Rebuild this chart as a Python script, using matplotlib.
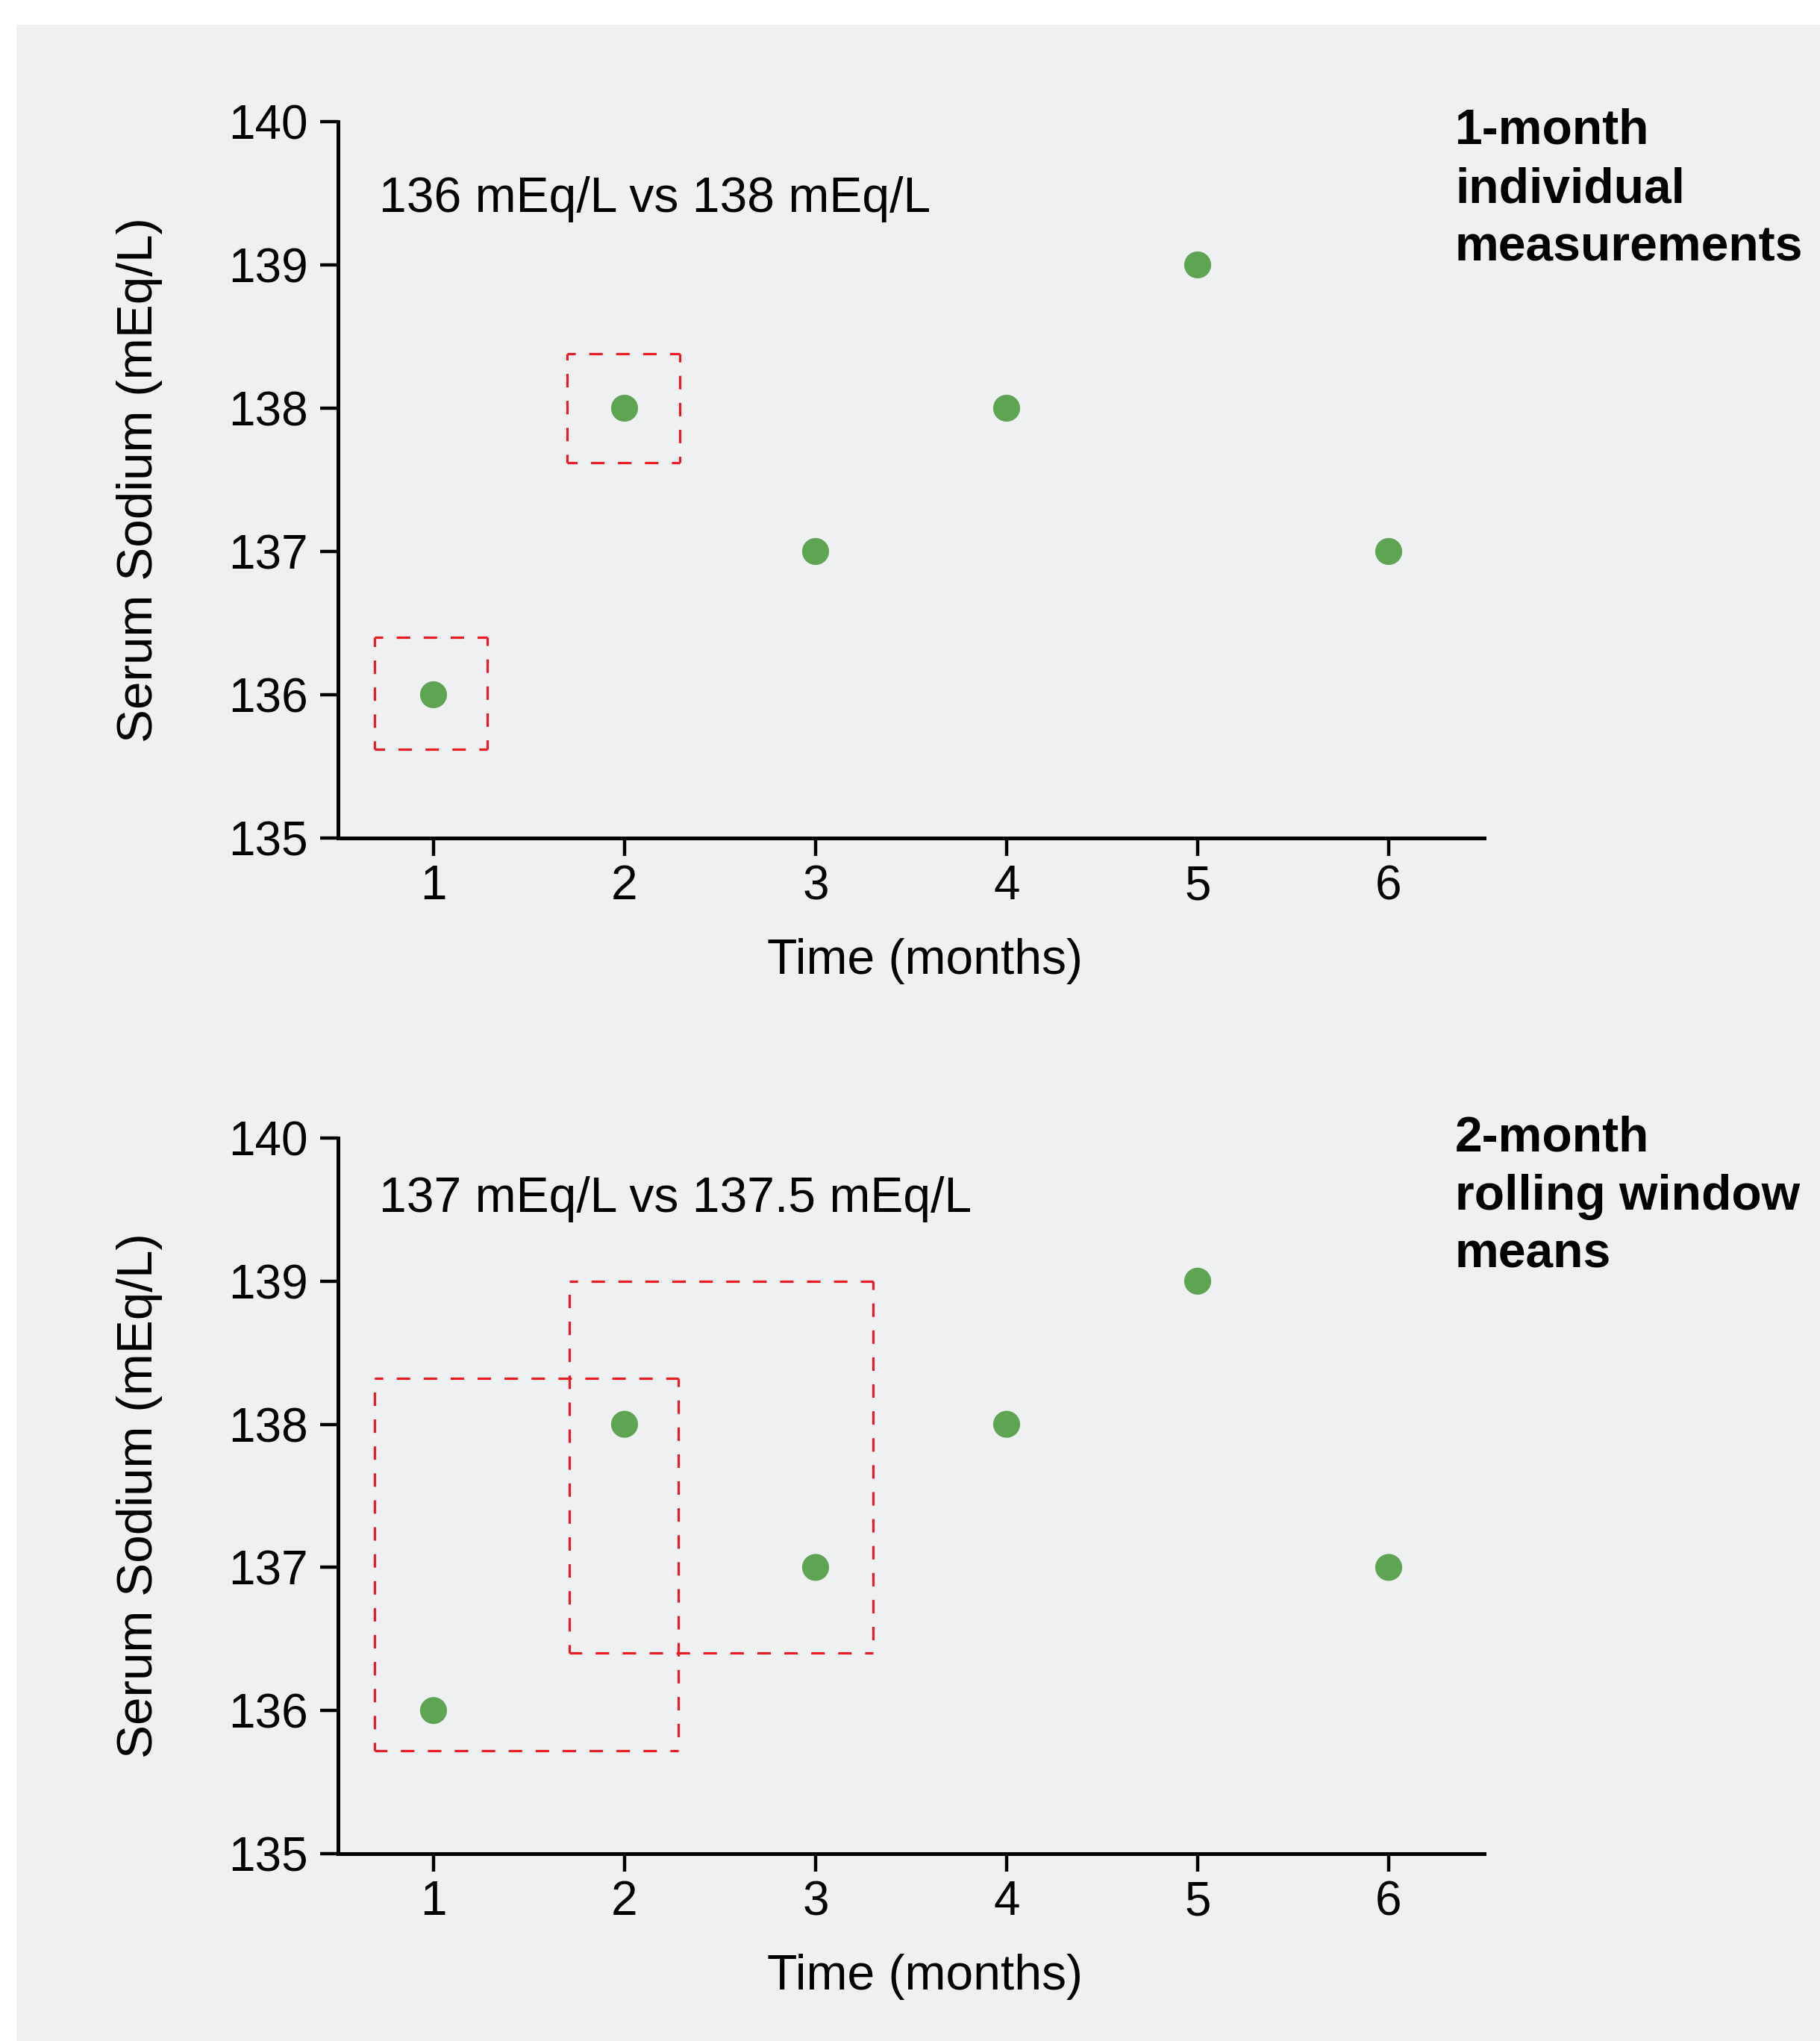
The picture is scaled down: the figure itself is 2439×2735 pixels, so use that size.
#two stacked scatter panels of serum sodium over 6 months, with dashed red boxes showing what gets compared
import numpy as np
import matplotlib.pyplot as plt
from matplotlib.patches import Rectangle

plt.rcParams['font.family'] = ['Liberation Sans', 'DejaVu Sans']
#dash lengths below are in points, not multiples of linewidth
plt.rcParams['lines.scale_dashes'] = False

#data
months = [1, 2, 3, 4, 5, 6]
sodium = [136, 138, 137, 138, 139, 137]

panel_titles = ["1-month\nindividual\nmeasurements", "2-month\nrolling window\nmeans"]
compare_text = ["136 mEq/L vs 138 mEq/L", "137 mEq/L vs 137.5 mEq/L"]

#dashed boxes (data coords) for each panel: x0, x1, y0, y1
top_box_x0 = [0.69, 1.70]
top_box_x1 = [1.28, 2.29]
top_box_y0 = [135.62, 137.62]
top_box_y1 = [136.40, 138.38]

bot_box_x0 = [0.69, 1.71]
bot_box_x1 = [2.28, 3.30]
bot_box_y0 = [135.72, 136.40]
bot_box_y1 = [138.32, 139.00]

yticks = [135, 136, 137, 138, 139, 140]

green = '#5EA452'
red = '#EC1C24'
panel_bg = '#EFF0F2'

fig = plt.figure(figsize=(24.39, 27.35), dpi=100)
fig.patch.set_facecolor('white')
#grey panel behind everything, starts a little in from the top/left
fig.patches.append(Rectangle((22 / 2439, 0), 1.1, (2735 - 33) / 2735,
                             transform=fig.transFigure, facecolor=panel_bg,
                             edgecolor='none', zorder=-10))

ax_top = fig.add_axes([0.1857, 0.5894, 0.6298, 0.3510])
ax_bot = fig.add_axes([0.1857, 0.0918, 0.6298, 0.3506])

boxes = [(top_box_x0, top_box_x1, top_box_y0, top_box_y1),
         (bot_box_x0, bot_box_x1, bot_box_y0, bot_box_y1)]
title_y = [1.019, 1.032]
compare_y = [0.874, 0.897]

#dash style: each side starts with a short corner piece like the original
dash = (5, (13, 13))

for i, ax in enumerate([ax_top, ax_bot]):
    ax.set_facecolor('none')
    ax.scatter(months, sodium, s=26**2, color=green, edgecolors='none', zorder=3)

    x0s, x1s, y0s, y1s = boxes[i]
    for x0, x1, y0, y1 in zip(x0s, x1s, y0s, y1s):
        #draw the four sides one by one so every corner gets a dash
        sides = [([x0, x1], [y1, y1]), ([x1, x1], [y1, y0]),
                 ([x1, x0], [y0, y0]), ([x0, x0], [y0, y1])]
        for xs, ys in sides:
            ax.plot(xs, ys, color=red, lw=2.3, linestyle=dash,
                    solid_capstyle='butt', dash_capstyle='butt', zorder=2)

    ax.set_xlim(0.5, 6.5)
    ax.set_ylim(135, 140)
    ax.set_xticks(months)
    ax.set_yticks(yticks)

    for side in ['top', 'right']:
        ax.spines[side].set_visible(False)
    for side in ['left', 'bottom']:
        ax.spines[side].set_linewidth(3.6)

    ax.tick_params(axis='both', labelsize=46, length=17, width=3.2, direction='out')
    ax.tick_params(axis='y', pad=12)
    ax.tick_params(axis='x', pad=8.5)

    ax.set_xlabel("Time (months)", fontsize=47.5)
    ax.xaxis.set_label_coords(0.512, -0.140)
    ax.set_ylabel("Serum Sodium (mEq/L)", fontsize=48.5)
    ax.yaxis.set_label_coords(-0.153, 0.5)

    ax.text(0.0358, compare_y[i], compare_text[i], transform=ax.transAxes,
            fontsize=47.5, va='baseline', ha='left')
    ax.text(0.9746, title_y[i], panel_titles[i], transform=ax.transAxes,
            fontsize=47.5, fontweight='bold', va='top', ha='left',
            linespacing=1.34)

plt.savefig("out.png", dpi=100)
